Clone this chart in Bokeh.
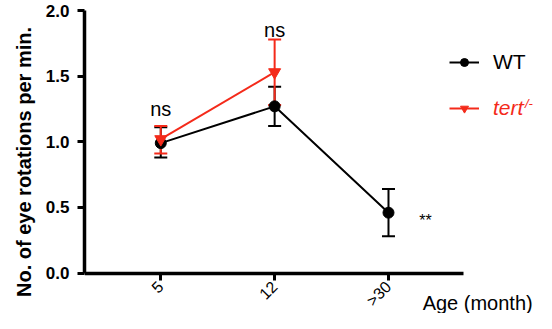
from bokeh.plotting import figure
from bokeh.models import (ColumnDataSource, Whisker, TeeHead, Legend, LegendItem,
                          Label, FixedTicker, Range1d)
from bokeh.embed import file_html
from bokeh.resources import INLINE

# ---- data ----
ages = ["5", "12", ">30"]
age_pos = [0, 1, 2]
wt_mean = [0.99, 1.27, 0.46]
wt_lower = [0.88, 1.12, 0.28]
wt_upper = [1.11, 1.42, 0.64]
tert_pos = [0, 1]
tert_mean = [1.02, 1.53]
tert_lower = [0.91, 1.28]
tert_upper = [1.12, 1.78]
y_ticks = [0.0, 0.5, 1.0, 1.5, 2.0]
ns_pos = [0, 1]
ns_y = [1.25, 1.85]

BLACK = "#000000"
RED = "#f42a1a"
FONT = "Liberation Sans"

p = figure(width=536, height=313, output_backend="svg", toolbar_location=None,
           x_range=Range1d(-0.67, 3.30), y_range=Range1d(-0.308, 2.0),
           min_border_left=84, min_border_right=0, min_border_top=10,
           min_border_bottom=0)
p.outline_line_color = None
p.grid.grid_line_color = None
p.background_fill_color = "white"

# axes
p.xaxis.fixed_location = 0
p.xaxis.ticker = FixedTicker(ticks=age_pos)
p.xaxis.major_label_overrides = {i: a for i, a in zip(age_pos, ages)}
p.xaxis.bounds = (-0.67, 2.66)
p.xaxis.major_label_orientation = 0.785
p.xaxis.major_label_text_font = FONT
p.xaxis.major_label_text_font_size = "16px"
p.xaxis.major_label_text_color = BLACK
p.xaxis.major_label_standoff = 4

p.yaxis.ticker = FixedTicker(ticks=y_ticks)
p.yaxis.major_label_overrides = {t: f"{t:.1f}" for t in y_ticks}
p.yaxis.bounds = (0, 2.0)
p.yaxis.major_label_text_font = FONT
p.yaxis.major_label_text_font_size = "17px"
p.yaxis.major_label_text_font_style = "bold"
p.yaxis.major_label_text_color = BLACK
p.yaxis.major_label_standoff = 8
p.yaxis.axis_label = "No. of eye rotations per min."
p.yaxis.axis_label_text_font = FONT
p.yaxis.axis_label_text_font_size = "20px"
p.yaxis.axis_label_text_font_style = "bold"
p.yaxis.axis_label_text_color = BLACK
p.yaxis.axis_label_standoff = 8

for ax in (p.xaxis, p.yaxis):
    ax.axis_line_width = 3.5
    ax.axis_line_color = BLACK
    ax.major_tick_line_width = 3
    ax.major_tick_line_color = BLACK
    ax.major_tick_out = 7
    ax.major_tick_in = 0
    ax.minor_tick_line_color = None

# WT
wt_src = ColumnDataSource(dict(x=age_pos, y=wt_mean, lo=wt_lower, hi=wt_upper))
wt_line = p.line("x", "y", source=wt_src, line_color=BLACK, line_width=2)
p.add_layout(Whisker(base="x", lower="lo", upper="hi", source=wt_src,
                     line_color=BLACK, line_width=2,
                     lower_head=TeeHead(size=13, line_color=BLACK, line_width=2),
                     upper_head=TeeHead(size=13, line_color=BLACK, line_width=2)))
wt_pts = p.scatter("x", "y", source=wt_src, marker="circle", size=11,
                   fill_color=BLACK, line_color=BLACK)

# tert
t_src = ColumnDataSource(dict(x=tert_pos, y=tert_mean, lo=tert_lower, hi=tert_upper))
t_line = p.line("x", "y", source=t_src, line_color=RED, line_width=2)
p.add_layout(Whisker(base="x", lower="lo", upper="hi", source=t_src,
                     line_color=RED, line_width=2,
                     lower_head=TeeHead(size=13, line_color=RED, line_width=2),
                     upper_head=TeeHead(size=13, line_color=RED, line_width=2)))
t_pts = p.scatter("x", "y", source=t_src, marker="inverted_triangle", size=12,
                  fill_color=RED, line_color=RED)

# annotations
for xx, yy in zip(ns_pos, ns_y):
    p.add_layout(Label(x=xx, y=yy, text="ns", text_align="center",
                       text_baseline="alphabetic", text_font=FONT,
                       text_font_size="20px", text_color=BLACK))
p.add_layout(Label(x=2.27, y=0.40, text="**", text_align="left",
                   text_baseline="middle", text_font=FONT,
                   text_font_size="16px", text_color=BLACK))
p.add_layout(Label(x=2.30, y=-0.23, text="Age (month)", text_align="left",
                   text_baseline="alphabetic", text_font=FONT,
                   text_font_size="20px", text_color=BLACK))

# legends
def mk_legend(label, renderers, y_loc, color, style):
    lg = Legend(items=[LegendItem(label=label, renderers=renderers)],
                location=(365, y_loc), padding=0, margin=0,
                border_line_color=None, background_fill_alpha=0,
                glyph_width=30, glyph_height=20, label_standoff=14,
                label_text_font=FONT, label_text_font_size="21px",
                label_text_color=color, label_text_font_style=style,
                label_height=24)
    p.add_layout(lg, "center")

mk_legend("WT", [wt_line, wt_pts], 239, BLACK, "normal")
mk_legend("tert", [t_line, t_pts], 193, RED, "italic")
p.add_layout(Label(x=3.16, y=1.29, text="-/-", text_align="left",
                   text_baseline="middle", text_font=FONT, text_font_style="italic",
                   text_font_size="13px", text_color=RED))

open("out.html", "w").write(file_html(p, INLINE))
